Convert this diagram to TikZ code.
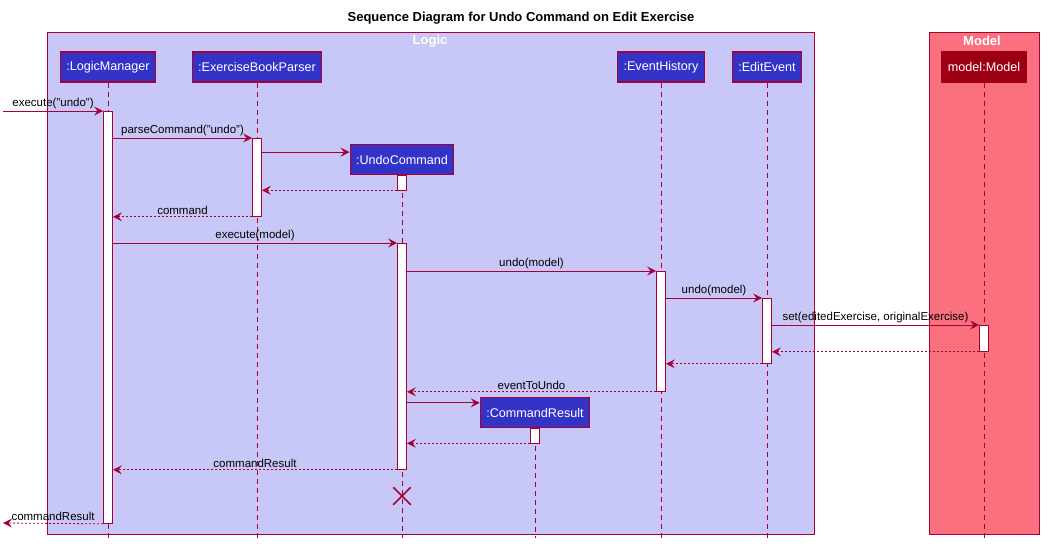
\documentclass[tikz,border=0pt]{standalone}
\usepackage{fontspec}
\setmainfont{Liberation Sans}
\usetikzlibrary{arrows.meta,positioning,shapes.misc}
\definecolor{umlred}{HTML}{A80036}
\definecolor{logicfill}{HTML}{C8C8F8}
\definecolor{modelfill}{HTML}{FA707F}
\definecolor{partblue}{HTML}{3333C8}
\definecolor{partred}{HTML}{9D0012}

\begin{document}
\begin{tikzpicture}[x=1pt, y=-1pt,
        >={Stealth[length=9pt,width=9pt,inset=3.5pt]},
        font=\fontsize{11.5}{14}\selectfont]
        \tikzset{
                frame/.style    = {draw=umlred, line width=0.8pt},
                part/.style     = {draw=umlred, line width=1.2pt, fill=partblue, text=white,
                                font=\fontsize{12.6}{15}\selectfont,
                                minimum height=30pt, inner xsep=6pt},
                lifeline/.style = {umlred, line width=0.8pt, dash pattern=on 5pt off 4pt},
                act/.style      = {draw=umlred, line width=0.8pt, fill=white, minimum width=9pt,
                                inner sep=0pt, anchor=north},
                msg/.style      = {->, umlred, line width=0.8pt},
                ret/.style      = {->, umlred, line width=0.8pt, dash pattern=on 2pt off 2pt},
                lbl/.style      = {midway, above, text=black, inner sep=2pt}
        }
        \useasboundingbox (0,0) rectangle (1048,550);

        % title and the two boxes
        \node[font=\fontsize{13}{15}\selectfont\bfseries] (title) at (521,18) {Sequence Diagram for Undo Command on Edit Exercise};
        \draw[frame, fill=logicfill] (47,32) rectangle (814,534);
        \node[text=white, font=\fontsize{13}{15}\selectfont\bfseries] (logic) at (430,41) {Logic};
        \draw[frame, fill=modelfill] (929,32) rectangle (1039,534);
        \node[text=white, font=\fontsize{13}{15}\selectfont\bfseries] (model) at (982,41) {Model};

        % participants
        \node[part] (LM)  at (108,67) {:LogicManager};
        \node[part] (EBP) at (257,67) {:ExerciseBookParser};
        \node[part] (EH)  at (661,67) {:EventHistory};
        \node[part] (EE)  at (767,67) {:EditEvent};
        \node[part, fill=partred, draw=partred] (M) at (984,67) {model:Model};
        \node[part] (UC)  at (402,159.5) {:UndoCommand};
        \node[part] (CR)  at (535,412.5) {:CommandResult};

        % lifelines
        \coordinate (bottom) at (0,538);
        \foreach \p in {LM,EBP,EH,EE,M,UC,CR}
                \draw[lifeline] (\p.south) -- (\p.south |- bottom);

        % activations
        \node[act, minimum height=412pt] (aLM)  at (108,111) {};
        \node[act, minimum height=78pt]  (aEBP) at (257,138) {};
        \node[act, minimum height=15pt]  (aUC1) at (402,174.5) {};
        \node[act, minimum height=226pt] (aUC2) at (402,243) {};
        \node[act, minimum height=120pt] (aEH)  at (661,271) {};
        \node[act, minimum height=65pt]  (aEE)  at (767,298) {};
        \node[act, minimum height=26pt]  (aM)   at (984,325) {};
        \node[act, minimum height=15pt]  (aCR)  at (535,427.5) {};

        % messages
        \coordinate (in) at (3,111);
        \draw[msg] (in) -- (aLM.north west) node[lbl] {execute("undo")};
        \draw[msg] (aLM.east |- aEBP.north) -- (aEBP.north west) node[lbl] {parseCommand("undo")};
        \draw[msg] (aEBP.east |- UC.172) -- (UC.172);
        \draw[ret] (aUC1.south west) -- (aUC1.south west -| aEBP.east);
        \draw[ret] (aEBP.south west) -- (aEBP.south west -| aLM.east) node[lbl] {command};
        \draw[msg] (aLM.east |- aUC2.north) -- (aUC2.north west) node[lbl] {execute(model)};
        \draw[msg] (aUC2.east |- aEH.north) -- (aEH.north west) node[lbl] {undo(model)};
        \draw[msg] (aEH.east |- aEE.north) -- (aEE.north west) node[lbl] {undo(model)};
        \draw[msg] (aEE.east |- aM.north) -- (aM.north west) node[lbl] {set(editedExercise, originalExercise)};
        \draw[ret] (aM.south west) -- (aM.south west -| aEE.east);
        \draw[ret] (aEE.south west) -- (aEE.south west -| aEH.east);
        \draw[ret] (aEH.south west) -- (aEH.south west -| aUC2.east) node[lbl] {eventToUndo};
        \draw[msg] (aUC2.east |- CR.170) -- (CR.170);
        \draw[ret] (aCR.south west) -- (aCR.south west -| aUC2.east);
        \draw[ret] (aUC2.south west) -- (aUC2.south west -| aLM.east) node[lbl] {commandResult};

        % destruction of the command
        \node[cross out, draw=umlred, line width=1.5pt, minimum size=16pt, inner sep=0pt] (kill) at (402,496) {};

        \coordinate (out) at (3,523);
        \draw[ret] (aLM.south west) -- (out) node[lbl] {commandResult};
\end{tikzpicture}
\end{document}
